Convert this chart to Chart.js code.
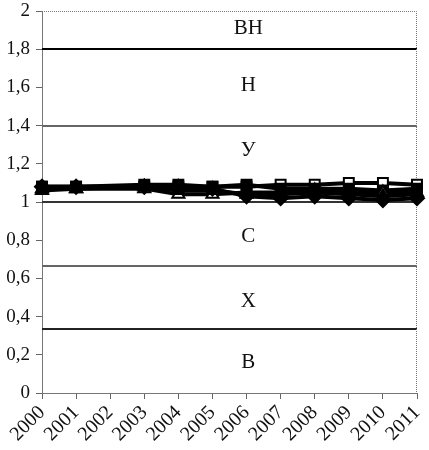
<!DOCTYPE html>
<html>
<head>
<meta charset="utf-8">
<script src="https://cdn.jsdelivr.net/npm/chart.js@4"></script>
<style>
  html, body { margin: 0; padding: 0; background: #fff; }
  #wrap { width: 429px; height: 450px; }
</style>
</head>
<body>
<div id="wrap"><canvas id="chart"></canvas></div>
<script>
// Années (2002 sans données)
const years = ['2000', '2001', '2002', '2003', '2004', '2005', '2006', '2007', '2008', '2009', '2010', '2011'];

// Séries
const seriesA = [1.08, 1.08, null, 1.08, 1.08, 1.08, 1.08, 1.09, 1.09, 1.10, 1.10, 1.09];
const seriesB = [1.08, 1.08, null, 1.09, 1.09, 1.08, 1.09, 1.07, 1.07, 1.07, 1.06, 1.07];
const seriesC = [1.06, 1.07, null, 1.07, 1.04, 1.04, 1.05, 1.05, 1.06, 1.05, 1.05, 1.05];
const seriesD = [1.07, 1.07, null, 1.08, 1.06, 1.06, 1.04, 1.04, 1.05, 1.04, 1.03, 1.04];
const seriesE = [1.08, 1.08, null, 1.08, 1.08, 1.07, 1.03, 1.02, 1.03, 1.02, 1.01, 1.02];

// Limites des zones et leurs libellés
const zoneLimits = [1 / 3, 2 / 3, 1, 1.4, 1.8];
const zoneNames = ['В', 'Х', 'С', 'У', 'Н', 'ВН'];
const zoneLabelY = [0.16, 0.48, 0.82, 1.27, 1.61, 1.91];

const limitColors = ['#222', '#666', '#333', '#666', '#000'];

// Plugin : lignes des zones, libellés et bordure pointillée
const zonesPlugin = {
  id: 'zones',
  beforeDatasetsDraw(chart) {
    const ctx = chart.ctx;
    const { left, right, top } = chart.chartArea;
    const y = chart.scales.y;
    ctx.save();
    zoneLimits.forEach((v, i) => {
      const py = Math.round(y.getPixelForValue(v));
      ctx.strokeStyle = limitColors[i];
      ctx.lineWidth = 2;
      ctx.beginPath();
      ctx.moveTo(left, py);
      ctx.lineTo(right, py);
      ctx.stroke();
    });
    // bordure pointillée haut / droite
    ctx.strokeStyle = '#777';
    ctx.lineWidth = 1;
    ctx.setLineDash([1, 1]);
    ctx.beginPath();
    ctx.moveTo(left, top + 0.5);
    ctx.lineTo(right - 0.5, top + 0.5);
    ctx.lineTo(right - 0.5, y.getPixelForValue(0));
    ctx.stroke();
    ctx.setLineDash([]);

    ctx.font = '21px "Liberation Serif", serif';
    ctx.fillStyle = '#111';
    ctx.textAlign = 'center';
    ctx.textBaseline = 'middle';
    zoneNames.forEach((name, i) => {
      ctx.fillText(name, left + (right - left) * 0.55, y.getPixelForValue(zoneLabelY[i]));
    });
    ctx.restore();
  }
};

function series(data, style, fill) {
  return {
    data: data,
    spanGaps: true,
    borderColor: '#000',
    borderWidth: 4,
    pointStyle: style,
    pointRadius: 7,
    pointBackgroundColor: fill,
    pointBorderColor: '#000',
    pointBorderWidth: 2,
    tension: 0
  };
}

new Chart(document.getElementById('chart'), {
  type: 'line',
  data: {
    labels: years,
    datasets: [
      series(seriesE, 'rectRot', '#000'),
      series(seriesD, 'triangle', '#000'),
      series(seriesC, 'triangle', '#fff'),
      series(seriesB, 'rect', '#000'),
      series(seriesA, 'rect', '#fff')
    ]
  },
  options: {
    responsive: true,
    maintainAspectRatio: false,
    animation: false,
    layout: { padding: { top: 11, right: 12, left: 0, bottom: 0 } },
    plugins: {
      legend: { display: false },
      tooltip: { enabled: false }
    },
    scales: {
      x: {
        offset: false,
        afterFit: s => { s.height = 57; s.paddingLeft = 0; s.paddingRight = 0; },
        grid: { display: true, drawOnChartArea: false, drawTicks: true, tickLength: 6, color: '#666' },
        border: { color: '#777', width: 1 },
        ticks: {
          color: '#111',
          font: { family: '"Liberation Serif", serif', size: 20 },
          maxRotation: 45,
          minRotation: 45,
          autoSkip: false,
          padding: 2
        }
      },
      y: {
        min: 0,
        max: 2,
        afterFit: s => { s.width = 42; s.paddingTop = 0; s.paddingBottom = 0; },
        grid: { display: true, drawOnChartArea: false, drawTicks: true, tickLength: 6, color: '#666' },
        border: { color: '#777', width: 1 },
        ticks: {
          stepSize: 0.2,
          color: '#111',
          font: { family: '"Liberation Serif", serif', size: 19 },
          padding: 6,
          callback: v => String(Number(v.toFixed(1))).replace('.', ',')
        }
      }
    }
  },
  plugins: [zonesPlugin]
});
</script>
</body>
</html>
